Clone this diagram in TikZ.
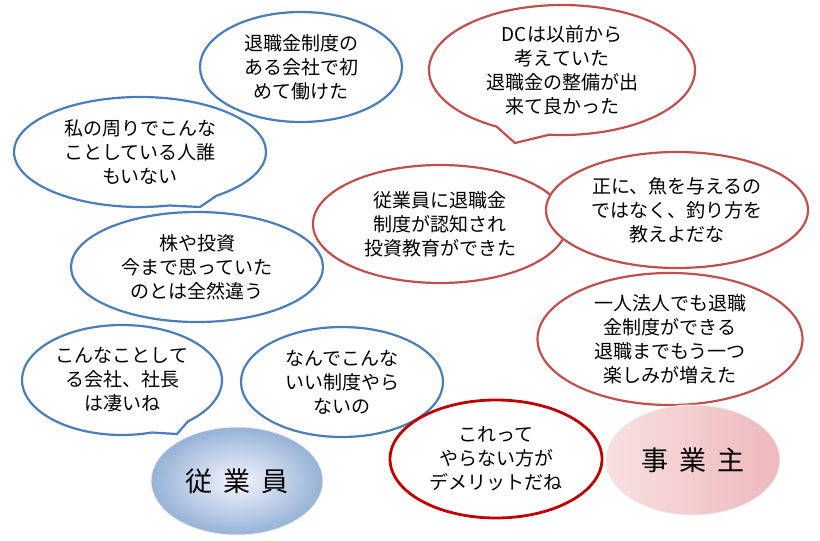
\documentclass[tikz,border=0pt]{standalone}
\usepackage{fontspec}
\setmainfont{Noto Sans CJK JP}
\usetikzlibrary{shapes.callouts,shapes.geometric}

\definecolor{empblue}{RGB}{74,126,187}
\definecolor{ownred}{RGB}{192,80,77}
\definecolor{deepred}{RGB}{192,0,0}

\begin{document}
\begin{tikzpicture}[x=1pt, y=-1pt,
    bubble/.style={ellipse, draw, line width=2.2pt, fill=white, inner sep=0pt,
                   align=center, font=\fontsize{19}{24}\selectfont},
    empbubble/.style={bubble, draw=empblue},
    ownbubble/.style={bubble, draw=ownred},
    empsay/.style={empbubble, ellipse callout, callout pointer arc=24},
    ownsay/.style={ownbubble, ellipse callout, callout pointer arc=24},
    who/.style={ellipse, draw=white!85!gray, line width=1pt,
                font=\fontsize{27}{30}\selectfont}
]
\useasboundingbox (0,0) rectangle (820,541);

% employee side
\node[empbubble, minimum width=202, minimum height=110] (E1) at (301,67)
    {退職金制度の\\ある会社で初\\めて働けた};
\node[empsay, minimum width=252, minimum height=110,
      callout absolute pointer={(200,207)}] (E2) at (140,152)
    {私の周りでこんな\\ことしている人誰\\もいない};
\node[empbubble, minimum width=252, minimum height=110] (E3) at (197,267)
    {株や投資\\今まで思っていた\\のとは全然違う};
\node[empsay, minimum width=200, minimum height=110,
      callout absolute pointer={(177,434)}] (E4) at (122,380)
    {こんなことして\\る会社、社長\\は凄いね};
\node[empbubble, minimum width=202, minimum height=110] (E5) at (342,382)
    {なんでこんな\\いい制度やら\\ないの};
\node[who, minimum width=172, minimum height=108,
      inner color=blue!4!white, outer color={rgb,255:red,150;green,178;blue,214}]
    (emp) at (237,481) {従\hspace{0.4em}業\hspace{0.4em}員};

% employer side
\node[ownsay, minimum width=266, minimum height=130,
      callout absolute pointer={(515,143)}] (O1) at (562,70)
    {DCは以前から\\考えていた\\退職金の整備が出\\来て良かった};
\node[ownbubble, minimum width=254, minimum height=118] (O2) at (440,224)
    {従業員に退職金\\制度が認知され\\投資教育ができた};
\node[ownbubble, minimum width=262, minimum height=116] (O3) at (677,210)
    {正に、魚を与えるの\\ではなく、釣り方を\\教えよだな};
\node[ownbubble, minimum width=265, minimum height=132] (O4) at (670,339)
    {一人法人でも退職\\金制度ができる\\退職までもう一つ\\楽しみが増えた};
\node[ownbubble, draw=deepred, line width=2.8pt,
      minimum width=212, minimum height=118] (O5) at (496,459)
    {これって\\やらない方が\\デメリットだね};
\node[who, minimum width=174, minimum height=110, shading angle=135,
      left color={rgb,255:red,248;green,224;blue,224},
      right color={rgb,255:red,238;green,184;blue,188}]
    (own) at (693,460) {事\hspace{0.4em}業\hspace{0.4em}主};

\end{tikzpicture}
\end{document}
